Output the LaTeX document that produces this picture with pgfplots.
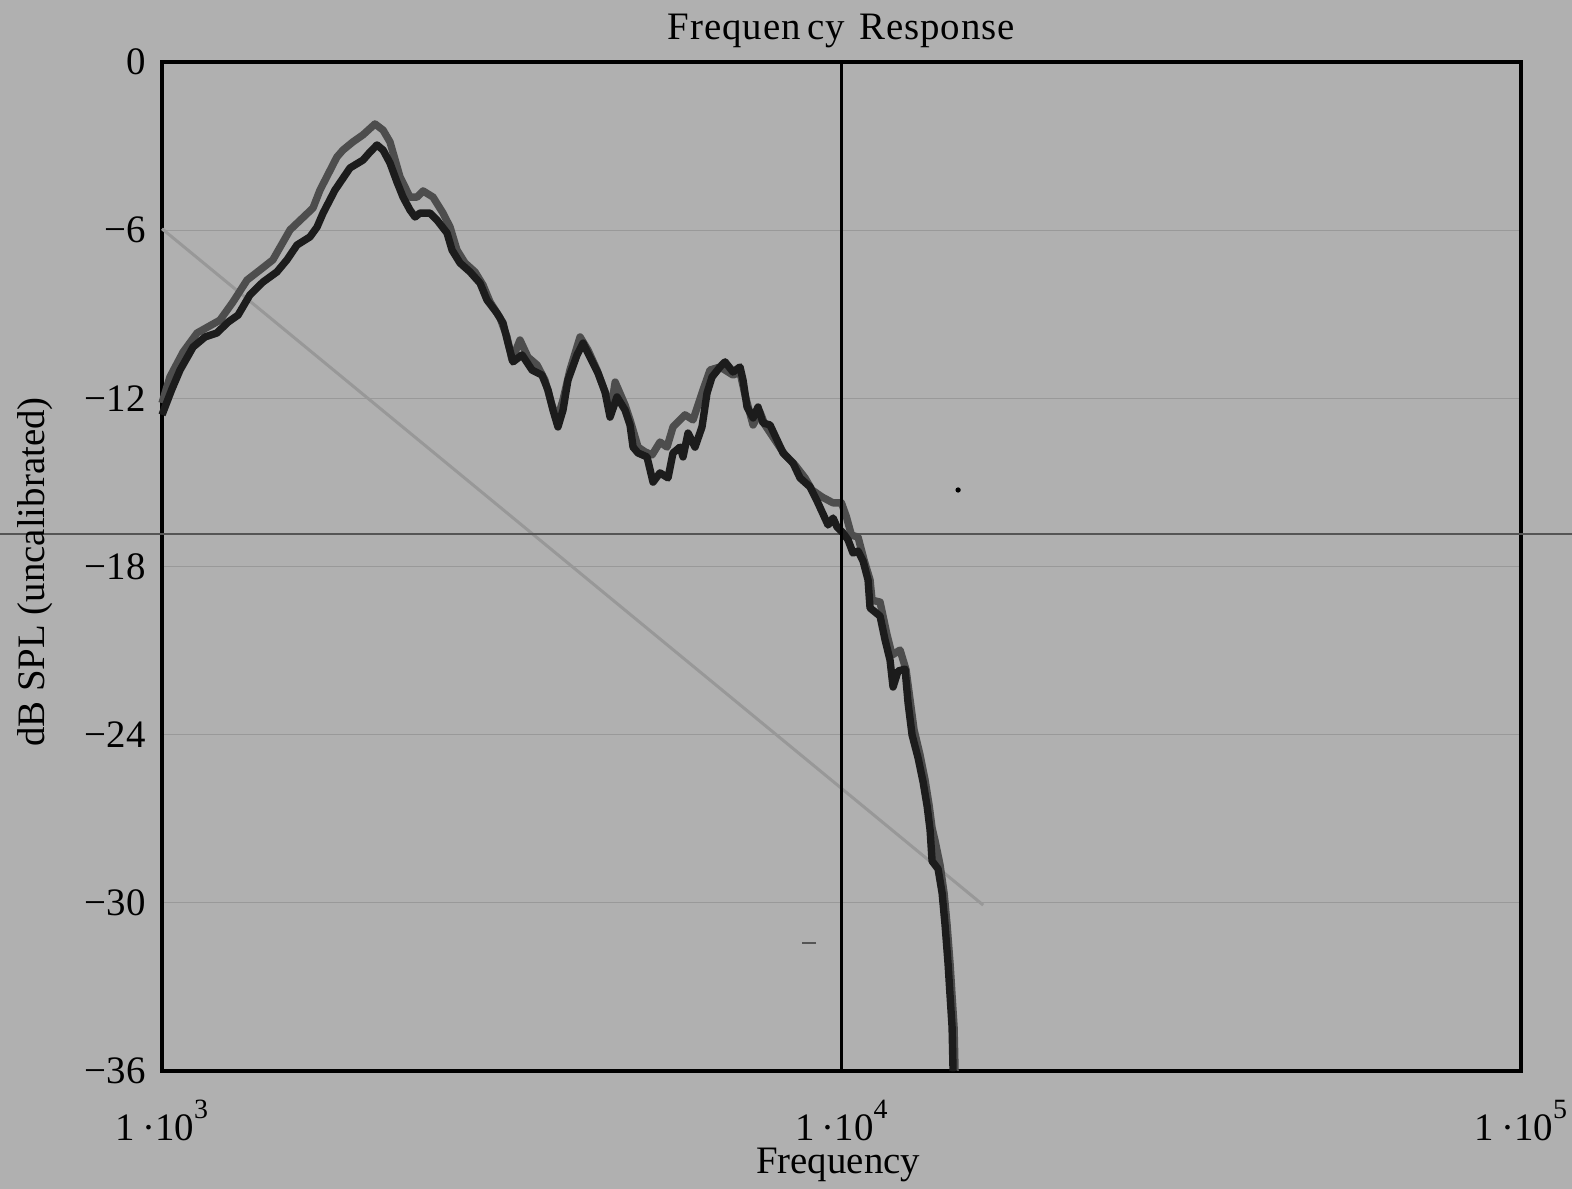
\documentclass[border=0pt]{standalone}
\usepackage{pgfplots}
\pgfplotsset{compat=1.18}
\usepackage{fontspec}
\setmainfont{Liberation Serif}
\definecolor{bg}{RGB}{176,176,176}
\definecolor{gridc}{RGB}{153,153,153}
\definecolor{darkc}{RGB}{28,28,28}
\definecolor{grayc}{RGB}{77,77,77}
\definecolor{lightc}{RGB}{152,152,152}
\definecolor{hlinec}{RGB}{85,85,85}
\newcommand{\tl}[1]{1\kern3.5bp·10\raisebox{11bp}{\fontsize{14}{14}\selectfont #1}}
\begin{document}
\begin{tikzpicture}
\fill[bg] (-81bp,-59bp) rectangle (705bp,535.5bp);
\begin{axis}[
  at={(0,0)}, anchor=south west,
  scale only axis, width=679.5bp, height=504.5bp,
  xmode=log, log basis x=10,
  xmin=1000, xmax=100000, ymin=-36, ymax=0,
  clip=false,
  xtick={1000,10000,100000},
  xticklabels={\tl{3},\tl{4},\tl{5}},
  ytick={-36,-30,-24,-18,-12,-6,0},
  yticklabels={−36,−30,−24,−18,−12,−6,0},
  major tick length=0pt, minor tick length=0pt,
  xmajorgrids=false, xminorgrids=true, ymajorgrids=true,
  minor grid style={draw=gridc, line width=0.6bp},
  major grid style={draw=gridc, line width=0.6bp},
  axis line style={line width=1.8bp, black},
  tick label style={font=\fontsize{19.5}{22}\selectfont},
  yticklabel style={anchor=east, inner sep=0pt, xshift=-8bp},
  xticklabel style={anchor=base, inner sep=0pt, yshift=-34.5bp},
  label style={font=\fontsize{19.5}{22}\selectfont},
  title style={font=\fontsize{19.5}{22}\selectfont\addfontfeatures{LetterSpace=2.5}, at={(axis description cs:0.5,1)}, anchor=base, yshift=5.5bp, inner sep=0pt},
  title={Frequen\kern3bp cy\kern2bp\ Response},
  xlabel={Frequency},
  xlabel style={at={(axis description cs:0.4975,0)}, anchor=base, yshift=-51bp, inner sep=0pt},
  ylabel={dB SPL (uncalibrated)},
  ylabel style={at={(axis description cs:-0.0934,0.4945)}, anchor=center, rotate=0},
]
% light reference slope
\addplot[lightc, line width=1.5bp] coordinates {(1000,-5.95) (16160,-30.08)};
% horizontal marker line
\addplot[hlinec, line width=0.7bp] coordinates {(577.7,-16.84) (118900,-16.84)};
% gray curve
\addplot[grayc, line width=3.7bp, line join=round] table {
1000 -12.17
1027 -11.24
1074 -10.35
1126 -9.67
1217 -9.21
1272 -8.56
1334 -7.78
1394 -7.42
1456 -7.06
1543 -5.99
1668 -5.21
1708 -4.57
1809 -3.39
1847 -3.14
1910 -2.85
1976 -2.60
2058 -2.21
2115 -2.43
2165 -2.85
2240 -4.10
2317 -4.82
2373 -4.82
2422 -4.60
2505 -4.82
2591 -5.39
2654 -5.89
2717 -6.71
2792 -7.17
2888 -7.49
2968 -7.96
3039 -8.56
3144 -9.13
3219 -9.81
3274 -10.63
3364 -9.92
3456 -10.53
3564 -10.81
3661 -11.35
3749 -12.24
3814 -12.77
3892 -12.06
3985 -10.99
4123 -9.81
4236 -10.28
4367 -10.99
4487 -11.77
4581 -12.34
4644 -11.42
4802 -12.24
4884 -12.77
5018 -13.74
5138 -13.91
5262 -14.02
5406 -13.56
5536 -13.74
5650 -13.02
5885 -12.59
6046 -12.77
6255 -11.70
6405 -10.99
6626 -10.88
6924 -11.17
7090 -11.06
7211 -11.88
7410 -12.95
7588 -12.49
7717 -12.95
7983 -13.49
8258 -14.02
8543 -14.38
8837 -14.84
9049 -15.27
9361 -15.52
9717 -15.73
9997 -15.73
10168 -16.23
10341 -16.88
10576 -16.95
10794 -17.77
11015 -18.48
11090 -19.20
11395 -19.27
11668 -20.44
11868 -21.16
12194 -20.98
12445 -21.69
12615 -22.76
12787 -23.83
13050 -24.73
13273 -25.62
13454 -26.51
13592 -27.33
13731 -27.79
13965 -28.65
14156 -29.65
14301 -30.79
14447 -32.18
14545 -33.32
14643 -34.43
14693 -36.00
};
% dark curve
\addplot[darkc, line width=3.7bp, line join=round] table {
1000 -12.59
1033 -11.70
1063 -10.99
1111 -10.17
1157 -9.81
1204 -9.67
1251 -9.28
1294 -9.03
1347 -8.31
1408 -7.85
1476 -7.49
1527 -7.06
1580 -6.53
1651 -6.24
1691 -5.89
1726 -5.39
1797 -4.57
1891 -3.78
1976 -3.50
2024 -3.21
2072 -2.96
2115 -3.14
2165 -3.60
2217 -4.28
2263 -4.82
2317 -5.28
2357 -5.53
2397 -5.39
2480 -5.39
2539 -5.64
2627 -6.10
2672 -6.71
2745 -7.17
2840 -7.49
2938 -7.89
3008 -8.49
3112 -8.96
3176 -9.31
3230 -10.03
3285 -10.70
3387 -10.45
3504 -10.99
3624 -11.17
3699 -11.70
3762 -12.42
3826 -13.02
3892 -12.42
3958 -11.35
4081 -10.45
4165 -10.03
4265 -10.53
4382 -11.10
4487 -11.77
4564 -12.67
4673 -11.95
4802 -12.42
4884 -12.95
4934 -13.74
5018 -13.95
5173 -14.09
5280 -14.99
5406 -14.66
5555 -14.84
5650 -13.95
5786 -13.74
5845 -14.09
5945 -13.24
6087 -13.74
6233 -13.02
6340 -11.81
6448 -11.24
6626 -10.88
6739 -10.70
6924 -11.06
7090 -10.88
7163 -11.35
7261 -12.31
7410 -12.70
7536 -12.31
7665 -12.88
7849 -12.95
8038 -13.49
8203 -13.95
8485 -14.31
8689 -14.84
8988 -15.16
9204 -15.66
9554 -16.52
9717 -16.27
9849 -16.59
10051 -16.80
10223 -17.05
10398 -17.52
10576 -17.45
10757 -17.80
10941 -18.48
11015 -19.48
11395 -19.77
11590 -20.62
11788 -21.34
11908 -22.30
12112 -21.73
12403 -21.66
12530 -22.87
12701 -24.01
12962 -24.83
13184 -25.69
13364 -26.54
13500 -27.40
13592 -28.51
13871 -28.79
14061 -29.65
14204 -30.79
14349 -32.18
14447 -33.32
14545 -34.43
14594 -36.00
};
% vertical marker at 10 kHz
\addplot[black, line width=1.5bp] coordinates {(10000,-36) (10000,0)};
% stray marks
\addplot[only marks, mark=*, mark size=1.1bp, black] coordinates {(14845,-15.27)};
\addplot[only marks, mark=-, mark size=3.5bp, hlinec, line width=0.6bp] coordinates {(8960,-31.43)};
\end{axis}
\pgfresetboundingbox
\useasboundingbox (-81bp,-59bp) rectangle (705bp,535.5bp);
\end{tikzpicture}
\end{document}
